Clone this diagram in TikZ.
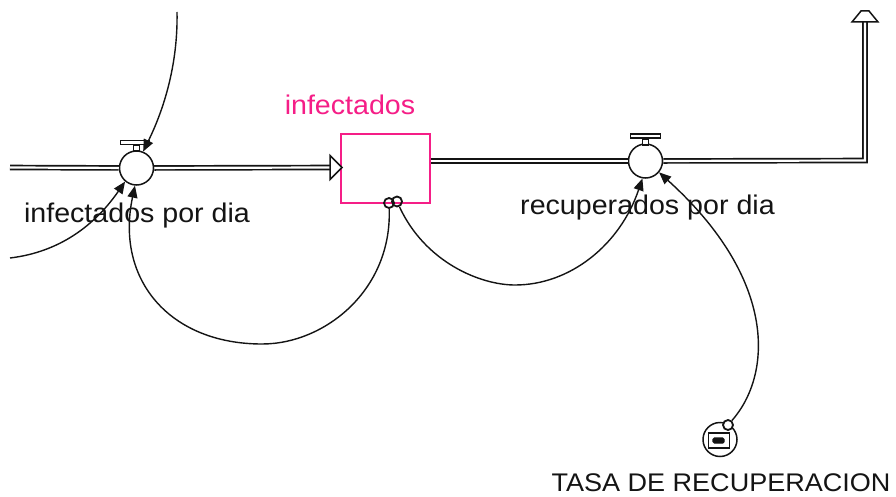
\documentclass[tikz,border=0pt]{standalone}
\usepackage{fontspec}
\setmainfont{Liberation Sans}
\usetikzlibrary{arrows.meta}
\definecolor{stockpink}{RGB}{245,30,135}
\definecolor{ink}{RGB}{20,20,20}
\tikzset{
  x=1pt,y=-1pt,
  pipe/.style={draw=ink,line width=1.7pt,double=white,double distance=2.2pt},
  valve/.style={circle,draw=ink,line width=1.5pt,fill=white,minimum size=34pt,inner sep=0pt},
  bar/.style={rectangle,draw=ink,line width=1.4pt,fill=white,inner sep=0pt},
  stockbox/.style={rectangle,draw=stockpink,line width=1.6pt,fill=white,minimum width=89pt,minimum height=69pt,inner sep=0pt},
  tap/.style={circle,draw=ink,line width=1.8pt,minimum size=10pt,inner sep=0pt},
  link/.style={draw=ink,line width=1.4pt,-{Triangle[length=12pt,width=10pt]}},
  head/.style={draw=ink,line width=1.5pt,fill=white,line join=miter},
  lbl/.style={font=\fontsize{27pt}{30pt}\selectfont,text=ink,inner sep=0pt,anchor=base,xscale=1.06,transform shape}
}
\begin{document}
\begin{tikzpicture}
\useasboundingbox (0,0) rectangle (896,497);
% nodes
\node[stockbox] (stock) at (385.5,168.5) {};
\node[valve] (v1) at (136.5,168) {};
\node[valve] (v2) at (645.5,161) {};
\coordinate (in) at (10,167.5);
\coordinate (arrowA) at (330,167.5);
\coordinate (tipA) at (341,167.5);
\coordinate (corner) at (865,160.5);
\coordinate (arrowB) at (865,22);
\coordinate (topsrc) at (177,12);
\coordinate (leftsrc) at (10,258);
% pipes
\draw[pipe] (in) -- (v1);
\draw[pipe] (v1) -- (arrowA);
\draw[pipe] (stock.east |- v2) -- (v2);
\draw[pipe,line join=miter] (v2) -- (corner) -- (arrowB);
\draw[head] ([yshift=-12pt]arrowA) -- ([xshift=1pt]tipA) -- ([yshift=12pt]arrowA) -- cycle;
\draw[head] (852,22) -- (861,11) -- (869,11) -- (878,22) -- cycle;
% valve handles
\node[bar,minimum width=6pt,minimum height=6pt] (s1) at (136.5,148) {};
\node[bar,minimum width=29pt,minimum height=4pt] (b1) at (135,142.5) {};
\node[bar,minimum width=6pt,minimum height=6pt] (s2) at (645.5,142) {};
\node[bar,minimum width=30pt,minimum height=4pt] (b2) at (645.5,136) {};
% taps
\node[tap] (t1) at (389,203) {};
\node[tap] (t2) at (397,201.5) {};
% constant
\node[circle,draw=ink,line width=1.5pt,minimum size=34pt,inner sep=0pt] (rate) at (720,439.5) {};
\node[rectangle,draw=ink,line width=1.5pt,minimum width=21pt,minimum height=15pt,inner sep=0pt] (ratebox) at (719,440.5) {};
\node[rectangle,rounded corners=1.5pt,draw=ink,line width=1.4pt,fill=ink,minimum width=11pt,minimum height=5pt,inner sep=0pt] (ratecore) at (718.5,440.5) {};
\node[tap,fill=white] (t3) at (728,425) {};
% links
\draw[link] (topsrc) .. controls (178,60) and (166,105) .. (v1.68);
\draw[link] (leftsrc) .. controls (60,252) and (95,225) .. (v1.230);
\draw[link] (t1) .. controls (392,290) and (325,344) .. (262,344) .. controls (170,344) and (115,280) .. (v1.265);
\draw[link] (t2) .. controls (425,262) and (480,285) .. (515,285) .. controls (570,285) and (620,245) .. (v2.260);
\draw[link] (t3) .. controls (772,375) and (778,280) .. (v2.-40);
% labels
\node[lbl,text=stockpink] (l0) at (350,115) {infectados};
\node[lbl] (l1) at (137,222) {infectados por dia};
\node[lbl] (l2) at (647.5,214) {recuperados por dia};
\node[lbl,font=\fontsize{25.5pt}{28pt}\selectfont] (l3) at (721,491) {TASA DE RECUPERACION};
\end{tikzpicture}
\end{document}
